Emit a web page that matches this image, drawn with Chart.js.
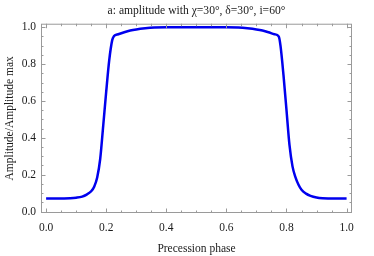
<!DOCTYPE html>
<html>
<head>
<meta charset="utf-8">
<script src="https://cdn.jsdelivr.net/npm/chart.js@4"></script>
<style>
  html, body { margin: 0; padding: 0; background: #fff; }
  #wrap { width: 374px; height: 256px; }
</style>
</head>
<body>
<div id="wrap"><canvas id="ampChart"></canvas></div>
<script>
const phases = [0, 0.04, 0.08, 0.1, 0.12, 0.135, 0.15, 0.16, 0.17, 0.18, 0.19, 0.2, 0.21, 0.22, 0.226,
    0.24, 0.26, 0.28, 0.3, 0.33, 0.36, 0.4, 0.45, 0.5, 0.55, 0.6, 0.64, 0.67, 0.7, 0.72, 0.74, 0.76,
    0.774, 0.78, 0.79, 0.8, 0.81, 0.82, 0.83, 0.84, 0.85, 0.865, 0.88, 0.9, 0.92, 0.96, 1.0];
const amplitude = [0.07, 0.07, 0.072, 0.075, 0.081, 0.092, 0.11, 0.135, 0.185, 0.285, 0.465, 0.65, 0.82, 0.93, 0.952,
    0.962, 0.973, 0.982, 0.988, 0.994, 0.998, 1.0, 1.0, 1.0, 1.0, 1.0, 0.998, 0.994, 0.988, 0.982, 0.973, 0.962,
    0.95, 0.9, 0.74, 0.55, 0.36, 0.245, 0.185, 0.145, 0.118, 0.097, 0.085, 0.076, 0.072, 0.07, 0.07];
const xTicks = [0, 0.2, 0.4, 0.6, 0.8, 1.0];
const yTicks = [0, 0.2, 0.4, 0.6, 0.8, 1.0];

const serif = 'Liberation Serif, "Times New Roman", serif';
const frameColor = '#9a9a9a';
const textColor = '#1a1a1a';

// frame with inward ticks on all four sides (Mathematica style)
const framePlugin = {
    id: 'frame',
    afterDatasetsDraw(chart) {
        const {ctx, chartArea: a, scales: {x, y}} = chart;
        ctx.save();
        ctx.strokeStyle = frameColor;
        ctx.lineWidth = 1;
        ctx.strokeRect(a.left + 0.5, a.top + 0.5, a.right - a.left - 1, a.bottom - a.top - 1);
        ctx.beginPath();
        const step = 0.05;
        for (let v = 0; v <= 1.0001; v += step) {
            const major = Math.abs(v / 0.2 - Math.round(v / 0.2)) < 1e-6;
            const len = major ? 4.5 : 2.5;
            const px = Math.round(x.getPixelForValue(v)) + 0.5;
            ctx.moveTo(px, a.bottom); ctx.lineTo(px, a.bottom - len);
            ctx.moveTo(px, a.top); ctx.lineTo(px, a.top + len);
            const py = Math.round(y.getPixelForValue(v)) + 0.5;
            ctx.moveTo(a.left, py); ctx.lineTo(a.left + len, py);
            ctx.moveTo(a.right, py); ctx.lineTo(a.right - len, py);
        }
        ctx.stroke();
        ctx.restore();
    }
};

new Chart(document.getElementById('ampChart'), {
    type: 'line',
    data: {
        datasets: [{
            data: phases.map((p, i) => ({x: p, y: amplitude[i]})),
            borderColor: '#0000ee',
            borderWidth: 2.5,
            pointRadius: 0,
            fill: false,
            cubicInterpolationMode: 'monotone'
        }]
    },
    options: {
        responsive: true,
        maintainAspectRatio: false,
        animation: false,
        layout: { padding: { left: 0, right: 22, top: 0, bottom: 0 } },
        plugins: {
            legend: { display: false },
            tooltip: { enabled: false },
            title: {
                display: true,
                fullSize: false,
                text: 'a: amplitude with \u03c7=30\u00b0, \u03b4=30\u00b0, i=60\u00b0',
                color: textColor,
                font: { family: serif, size: 11.6, weight: 'normal' },
                padding: { top: 3.5, bottom: 6.3 }
            }
        },
        scales: {
            x: {
                type: 'linear',
                min: -0.017,
                max: 1.018,
                afterBuildTicks: s => { s.ticks = xTicks.map(v => ({value: v})); },
                afterFit: s => { s.height = 43; },
                grid: { display: false, drawTicks: false },
                border: { display: false },
                ticks: {
                    color: textColor,
                    font: { family: serif, size: 11.5 },
                    padding: 8.5,
                    maxRotation: 0,
                    callback: v => v.toFixed(1)
                },
                title: {
                    display: true,
                    text: 'Precession phase',
                    color: textColor,
                    font: { family: serif, size: 11.5 },
                    padding: { top: 0, bottom: 0.3 }
                }
            },
            y: {
                min: -0.008,
                max: 1.019,
                afterBuildTicks: s => { s.ticks = yTicks.map(v => ({value: v})); },
                afterFit: s => { s.width = 41; },
                grid: { display: false, drawTicks: false },
                border: { display: false },
                ticks: {
                    color: textColor,
                    font: { family: serif, size: 11.5 },
                    padding: 5,
                    callback: v => v.toFixed(1)
                },
                title: {
                    display: true,
                    text: 'Amplitude/Amplitude max',
                    color: textColor,
                    font: { family: serif, size: 11.5 },
                    padding: { top: 3, bottom: 0 }
                }
            }
        }
    },
    plugins: [framePlugin]
});
</script>
</body>
</html>
